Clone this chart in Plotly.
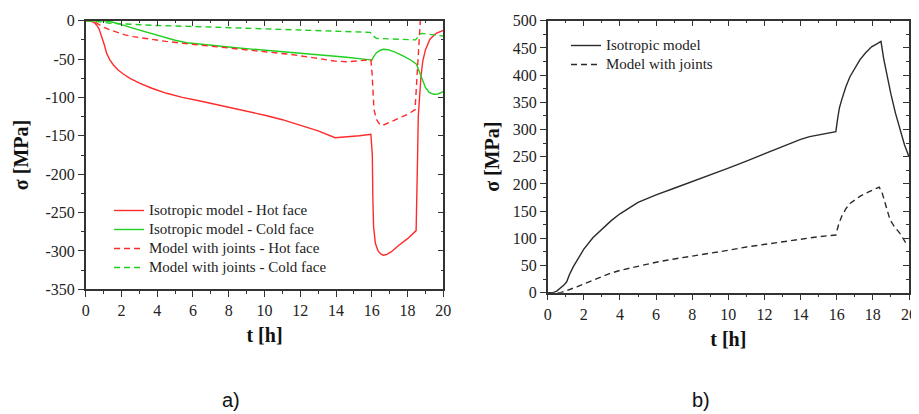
import plotly.graph_objects as go

# ---------------- data: panel a) ----------------
iso_hot_t = [0, 0.24, 0.45, 0.61, 0.75, 0.9, 1.05, 1.17, 1.35, 1.55, 1.8, 2.1, 2.5, 3.04, 3.7, 4.53, 5.4, 6.4, 7.3, 8.26, 9.2, 10.13, 11.0, 12.0, 13.0, 13.95, 14.6, 15.3, 15.95, 16.03, 16.06, 16.1, 16.2, 16.35, 16.5, 16.65, 16.85, 17.1, 17.5, 18.0, 18.48, 18.52, 18.56, 18.6, 18.68, 18.75, 18.85, 19.0, 19.25, 19.6, 20.0]
iso_hot_v = [0, 0, -2, -5.6, -11, -20.8, -32, -42.5, -51, -57.7, -64, -69.5, -75.5, -81.6, -88, -94.6, -100, -104.6, -109, -114, -118.5, -123.8, -129, -135.9, -143.5, -152.5, -151.5, -150, -148, -175, -230, -268, -290, -300, -304, -305.5, -304.5, -301, -293, -284, -273.5, -240, -180, -125, -95, -73, -53, -38, -24, -16.4, -12.5]

iso_cold_t = [0, 0.5, 1.0, 1.37, 1.8, 2.2, 2.67, 3.2, 3.8, 4.53, 5.0, 5.65, 6.5, 7.4, 8.26, 9.3, 10.5, 12.0, 13.3, 14.6, 15.9, 16.0, 16.1, 16.25, 16.45, 16.65, 16.9, 17.3, 17.8, 18.2, 18.5, 18.65, 18.8, 19.0, 19.2, 19.45, 19.7, 20.0]
iso_cold_v = [0, 0, 0, -1, -3.5, -6.5, -9.9, -13.5, -18, -23, -25.5, -28.7, -31, -33.2, -35, -37, -39.2, -42.5, -45, -47.6, -51, -51.5, -47, -42, -38.8, -37.3, -37.8, -41, -46.5, -51.5, -56.8, -66, -77, -87, -93, -95.9, -95.5, -92.5]

jnt_hot_t = [0, 0.4, 0.61, 0.8, 1.0, 1.37, 1.8, 2.2, 2.67, 3.5, 4.5, 5.46, 6.5, 7.5, 8.5, 10.1, 11.5, 12.8, 13.9, 14.6, 15.3, 15.95, 16.02, 16.06, 16.12, 16.25, 16.47, 16.7, 17.2, 17.6, 18.0, 18.42, 18.47, 18.53, 18.6, 18.67, 18.72]
jnt_hot_v = [0, 0, -3, -5.6, -8.5, -12, -15.5, -18.5, -20.8, -24, -27, -29.5, -32, -34.5, -37, -40.4, -44, -48.5, -52.5, -53.5, -52.5, -51, -70, -95, -115, -128, -136, -135.5, -130.5, -127, -122, -116, -95, -60, -30, -5, 2]

jnt_cold_t = [0, 0.5, 1.37, 2.5, 4.0, 6.4, 8.0, 10.0, 12.0, 14.0, 15.9, 16.0, 16.1, 16.25, 17.0, 17.8, 18.45, 18.55, 18.65, 18.8, 19.2, 19.6, 20.0]
jnt_cold_v = [0, -0.5, -3.4, -5, -6.3, -7.8, -9, -10.5, -12, -13.5, -15.2, -16.5, -20, -23, -23.5, -24.2, -25, -22, -18, -16.5, -17.5, -19, -20]

# ---------------- data: panel b) ----------------
b_iso_t = [0, 0.3, 0.5, 0.7, 0.9, 1.05, 1.2, 1.42, 1.7, 2.0, 2.5, 2.9, 3.5, 4.0, 4.5, 5.0, 5.5, 6.0, 7.0, 8.0, 9.0, 10.0, 11.0, 12.0, 13.0, 14.0, 14.5, 15.0, 15.5, 15.95, 16.05, 16.15, 16.27, 16.5, 16.73, 17.0, 17.28, 17.6, 17.93, 18.2, 18.45, 18.6, 18.8, 19.0, 19.25, 19.5, 19.75, 20.0]
b_iso_v = [0, 0, 3, 8, 14, 20, 33, 48, 64, 80, 101, 114, 132, 145, 156, 166, 173, 180, 192, 204, 216, 229, 242, 255, 268, 282, 287, 290.5, 293, 296, 320, 340, 354, 378, 397, 413, 428, 441, 452, 457, 462, 430, 395, 365, 330, 300, 272, 250]

b_jnt_t = [0, 0.7, 1.0, 1.5, 2.0, 2.5, 3.0, 3.5, 4.0, 5.0, 6.0, 7.0, 8.0, 9.0, 10.0, 11.0, 12.0, 13.0, 14.0, 15.0, 15.95, 16.1, 16.27, 16.5, 16.73, 17.0, 17.28, 17.8, 18.35, 18.5, 18.7, 18.95, 19.2, 19.5, 19.78, 19.9]
b_jnt_v = [0, 0, 3, 9, 16, 23, 30, 36, 41, 49, 56, 62, 67, 73, 78, 84, 89, 94, 99, 103, 106, 125, 140, 154, 164, 171, 177, 186, 194, 185, 160, 134, 121, 109, 94, 88]

# ---------------- ticks / labels ----------------
a_xticks = list(range(0, 21, 2))
a_yticks = list(range(-350, 1, 50))
a_ytext = [str(v) for v in a_yticks]
b_xticks = list(range(0, 21, 2))
b_yticks = list(range(0, 501, 50))
b_ytext = [str(v) for v in b_yticks]
a_names = ["Isotropic model - Hot face", "Isotropic model - Cold face",
           "Model with joints - Hot face", "Model with joints - Cold face"]
b_names = ["Isotropic model", "Model with joints"]

RED = "#ff2a2a"
GREEN = "#1fd01f"
BLACK = "#2b2b2b"
DASH = "6px,4px"
SERIF = "Liberation Serif"
TICKFONT = dict(family=SERIF, size=16, color="#222")


def leg(name):
    # text rendered at 15px; legend row height set by the (smaller) legend font size
    return '<span style="font-size:15px">' + name + '</span>'


fig = go.Figure()
fig.add_trace(go.Scatter(x=iso_hot_t, y=iso_hot_v, mode="lines", name=leg(a_names[0]),
                         line=dict(color=RED, width=1.4), xaxis="x", yaxis="y", legend="legend"))
fig.add_trace(go.Scatter(x=iso_cold_t, y=iso_cold_v, mode="lines", name=leg(a_names[1]),
                         line=dict(color=GREEN, width=1.4), xaxis="x", yaxis="y", legend="legend"))
fig.add_trace(go.Scatter(x=jnt_hot_t, y=jnt_hot_v, mode="lines", name=leg(a_names[2]),
                         line=dict(color=RED, width=1.4, dash=DASH), xaxis="x", yaxis="y", legend="legend"))
fig.add_trace(go.Scatter(x=jnt_cold_t, y=jnt_cold_v, mode="lines", name=leg(a_names[3]),
                         line=dict(color=GREEN, width=1.4, dash=DASH), xaxis="x", yaxis="y", legend="legend"))
fig.add_trace(go.Scatter(x=b_iso_t, y=b_iso_v, mode="lines", name=leg(b_names[0]),
                         line=dict(color=BLACK, width=1.4), xaxis="x2", yaxis="y2", legend="legend2"))
fig.add_trace(go.Scatter(x=b_jnt_t, y=b_jnt_v, mode="lines", name=leg(b_names[1]),
                         line=dict(color=BLACK, width=1.4, dash=DASH), xaxis="x2", yaxis="y2", legend="legend2"))

# transparent copies bound to the mirror (top / right) axes so that plotly draws those frames
for xa, ya, tx, vy in [("x3", "y", iso_hot_t, iso_hot_v), ("x", "y3", iso_hot_t, iso_hot_v),
                       ("x4", "y2", b_iso_t, b_iso_v), ("x2", "y4", b_iso_t, b_iso_v)]:
    fig.add_trace(go.Scatter(x=tx, y=vy, mode="lines", opacity=0, showlegend=False,
                             hoverinfo="skip", line=dict(width=0.1), xaxis=xa, yaxis=ya))

W, H = 919, 414
OFF = 8  # the page body offsets the figure by 8px; positions below are screen pixels


def px(x):
    return (x - OFF) / W


def py(y):
    return (H - (y - OFF)) / H


def dx(a, b):
    return [px(a), px(b)]


def dy(top, bottom):
    return [py(bottom), py(top)]


axline = dict(showline=True, linecolor="#333", linewidth=1.5, showgrid=False, zeroline=False,
              automargin=False)


def main_x(domain, anchor, ticks):
    return dict(domain=domain, anchor=anchor, range=[0, 20], tickvals=ticks,
                ticks="outside", ticklen=6, tickwidth=1.2, tickcolor="#333",
                minor=dict(dtick=1, tick0=0, ticks="outside", ticklen=3, tickwidth=1, tickcolor="#333"),
                tickfont=TICKFONT,
                title=dict(text="<b>t [h]</b>", font=dict(family=SERIF, size=20, color="#111"), standoff=10),
                **axline)


def main_y(domain, anchor, rng, ticks, text, minor_dt, standoff):
    return dict(domain=domain, anchor=anchor, range=rng, tickvals=ticks, ticktext=text,
                ticks="outside", ticklen=6, tickwidth=1.2, tickcolor="#333",
                minor=dict(dtick=minor_dt, tick0=0, ticks="outside", ticklen=3, tickwidth=1, tickcolor="#333"),
                tickfont=TICKFONT,
                title=dict(text="<b>σ [MPa]</b>", font=dict(family=SERIF, size=20, color="#111"), standoff=standoff),
                **axline)


def mirror_x(over, anchor, ticks):
    return dict(overlaying=over, anchor=anchor, side="top", range=[0, 20], tickvals=ticks,
                showticklabels=False, ticks="inside", ticklen=6, tickwidth=1.2, tickcolor="#333",
                minor=dict(dtick=1, tick0=0, ticks="inside", ticklen=3, tickwidth=1, tickcolor="#333"),
                **axline)


def mirror_y(over, anchor, rng, ticks, minor_dt):
    return dict(overlaying=over, anchor=anchor, side="right", range=rng, tickvals=ticks,
                showticklabels=False, ticks="inside", ticklen=6, tickwidth=1.2, tickcolor="#333",
                minor=dict(dtick=minor_dt, tick0=0, ticks="inside", ticklen=3, tickwidth=1, tickcolor="#333"),
                **axline)


a_dx = dx(85.7, 443.3)
a_dy = dy(20.7, 289.3)
b_dx = dx(547.7, 909.0)
b_dy = dy(20.7, 292.7)

LEGFONT = dict(family=SERIF, size=12.3, color="#222")

fig.update_layout(
    width=W, height=H,
    margin=dict(l=0, r=0, t=0, b=0, autoexpand=False),
    font=dict(family=SERIF, color="#222"),
    paper_bgcolor="white", plot_bgcolor="white",
    hovermode=False,
    xaxis=main_x(a_dx, "y", a_xticks),
    yaxis=main_y(a_dy, "x", [-350, 0], a_yticks, a_ytext, 25, 11),
    xaxis2=main_x(b_dx, "y2", b_xticks),
    yaxis2=main_y(b_dy, "x2", [0, 500], b_yticks, b_ytext, 25, 8),
    xaxis3=mirror_x("x", "y", a_xticks),
    yaxis3=mirror_y("y", "x", [-350, 0], a_yticks, 25),
    xaxis4=mirror_x("x2", "y2", b_xticks),
    yaxis4=mirror_y("y2", "x2", [0, 500], b_yticks, 25),
    legend=dict(x=px(151 - 42), y=py(196), xanchor="left", yanchor="top",
                bgcolor="rgba(0,0,0,0)", font=LEGFONT, tracegroupgap=0),
    legend2=dict(x=px(608 - 42), y=py(31), xanchor="left", yanchor="top",
                 bgcolor="rgba(0,0,0,0)", font=LEGFONT, tracegroupgap=0),
    annotations=[
        dict(text="a)", x=px(231), y=py(400), xref="paper", yref="paper",
             xanchor="center", yanchor="middle",
             showarrow=False, font=dict(family="Liberation Sans", size=20, color="#111")),
        dict(text="b)", x=px(701), y=py(400), xref="paper", yref="paper",
             xanchor="center", yanchor="middle",
             showarrow=False, font=dict(family="Liberation Sans", size=20, color="#111")),
    ],
    showlegend=True,
)

fig.write_html("out.html")
